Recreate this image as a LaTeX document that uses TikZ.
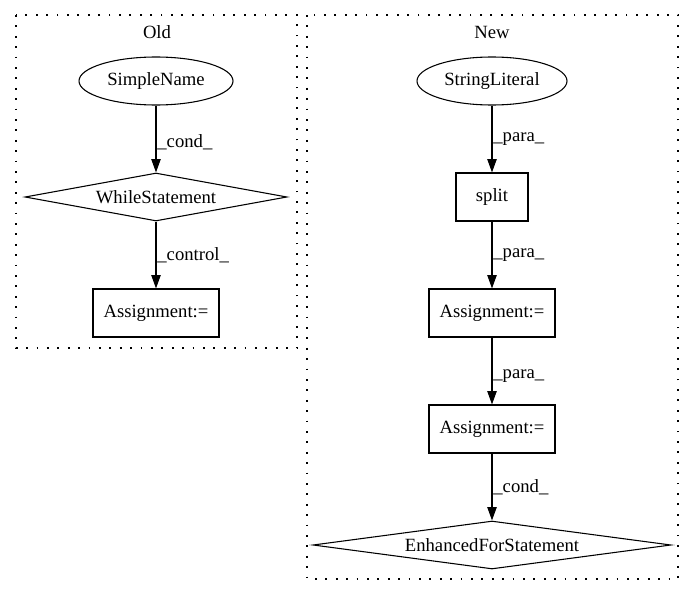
\documentclass[tikz,border=0pt]{standalone}
\usepackage{fontspec}
\setmainfont{Liberation Serif}
\usetikzlibrary{shapes.geometric,arrows.meta}

\tikzset{
  astnode/.style={draw, line width=0.8pt, inner sep=0pt, font=\fontsize{14}{16}\selectfont},
  ellnode/.style={astnode, ellipse, minimum height=36pt},
  boxnode/.style={astnode, rectangle, minimum height=36pt},
  dianode/.style={astnode, diamond, minimum height=36pt},
  edgelabel/.style={anchor=west, inner sep=0pt, xshift=0.6pt, font=\fontsize{14}{16}\selectfont},
  clusterbox/.style={draw, line width=0.8pt, dash pattern=on 1.4pt off 6.4pt},
  >={Triangle[length=10pt,width=7pt]},
}

\begin{document}
\begin{tikzpicture}[x=0.75pt, y=-0.75pt]
    \useasboundingbox (0,0) rectangle (693,596);
    % clusters
    \draw[clusterbox] (16,15) rectangle (297,348);
    \draw[clusterbox] (307,15) rectangle (678,579);
    \node[font=\fontsize{14}{16}\selectfont] (oldtitle) at (157,32) {Old};
    \node[font=\fontsize{14}{16}\selectfont] (newtitle) at (492,32) {New};
    % old
    \node[ellnode, minimum width=115.5pt] (simplename) at (156,81) {SimpleName};
    \node[dianode, aspect=5.5, minimum width=196.5pt] (while) at (156,197) {WhileStatement};
    \node[boxnode, minimum width=94.5pt] (oldassign) at (156,313) {Assignment:=};
    % new
    \node[ellnode, minimum width=112.5pt] (stringlit) at (492,81) {StringLiteral};
    \node[boxnode, minimum width=54pt] (split) at (492,197) {split};
    \node[boxnode, minimum width=94.5pt] (newassign) at (492,313) {Assignment:=};
    \node[boxnode, minimum width=94.5pt] (loopassign) at (492,429) {Assignment:=};
    \node[dianode, aspect=7.4, minimum width=268.5pt] (enhfor) at (492,545) {EnhancedForStatement};
    \begin{scope}[->, line width=0.9pt]
      \draw (simplename) -- node[edgelabel, pos=0.55] {\_cond\_} (while);
      \draw (while) -- node[edgelabel] {\_control\_} (oldassign);
      \draw (stringlit) -- node[edgelabel] {\_para\_} (split);
      \draw (split) -- node[edgelabel] {\_para\_} (newassign);
      \draw (newassign) -- node[edgelabel, pos=0.58] {\_para\_} (loopassign);
      \draw (loopassign) -- node[edgelabel] {\_cond\_} (enhfor);
    \end{scope}
  \end{tikzpicture}
\end{document}
